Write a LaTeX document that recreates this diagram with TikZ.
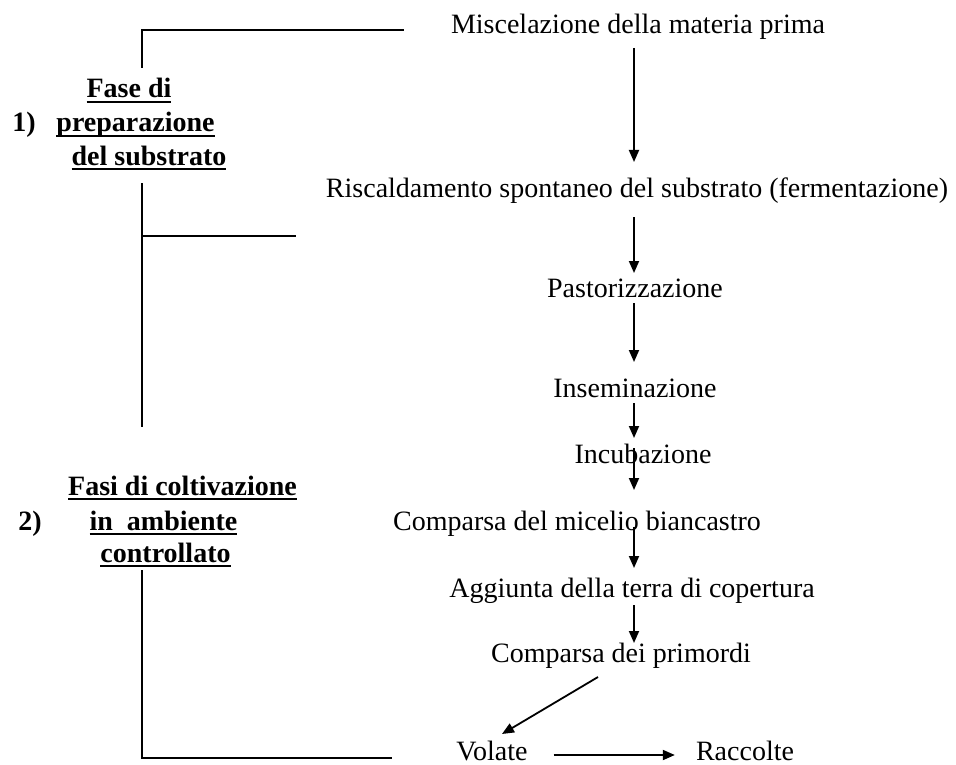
\documentclass[tikz,border=0pt]{standalone}
\usepackage{fontspec}
\setmainfont{Liberation Serif}
\usetikzlibrary{arrows.meta,calc}
\newcommand\myul[1]{\setbox0\hbox{#1}\rlap{\rule[-5pt]{\wd0}{1.6pt}}\box0}
\begin{document}
\begin{tikzpicture}[x=1pt,y=-1pt,
  txt/.style={inner sep=0pt,anchor=base,font=\fontsize{28}{34}\selectfont},
  lbl/.style={inner sep=0pt,anchor=base,font=\fontsize{28}{34}\selectfont\bfseries},
  arr/.style={line width=1.8pt,-{Triangle[width=10pt,length=12pt]}},
  ln/.style={line width=1.8pt}]
\useasboundingbox[fill=white] (0,0) rectangle (956,765);
\coordinate (axis) at (634,0);
\coordinate (vx) at (142,0);
% steps
\node[txt] (m)  at (638,34)  {Miscelazione della materia prima};
\node[txt] (r)  at (637,197) {Riscaldamento spontaneo del substrato (fermentazione)};
\node[txt] (p)  at (635,297) {Pastorizzazione};
\node[txt] (s)  at (635,397) {Inseminazione};
\node[txt] (c)  at (643,463) {Incubazione};
\node[txt] (cm) at (577,530) {Comparsa del micelio biancastro};
\node[txt] (ag) at (632,597) {Aggiunta della terra di copertura};
\node[txt] (cp) at (621,662) {Comparsa dei primordi};
\node[txt] (v)  at (492,760) {Volate};
\node[txt] (ra) at (745,760) {Raccolte};
% left labels
\node[lbl] (f1a) at (129,98)   {\myul{Fase di}};
\node[lbl] (n1)  at (24,132)   {1)};
\node[lbl] (f1b) at (135.5,132) {\myul{preparazione}};
\node[lbl] (f1c) at (149,165)  {\myul{del substrato}};
\node[lbl] (f2a) at (182.5,495) {\myul{Fasi di coltivazione}};
\node[lbl] (n2)  at (30,530)   {2)};
\node[lbl] (f2b) at (163.5,530) {\myul{in\ \ ambiente}};
\node[lbl] (f2c) at (165.5,562) {\myul{controllato}};
% vertical arrows
\draw[arr] ($(m.base -| axis)+(0,14)$) -- ($(r.base -| axis)+(0,-35)$);
\draw[arr] ($(r.base -| axis)+(0,20)$) -- ($(p.base -| axis)+(0,-24)$);
\draw[arr] ($(p.base -| axis)+(0,6)$) -- ($(s.base -| axis)+(0,-35)$);
\draw[arr] ($(s.base -| axis)+(0,6)$) -- ($(c.base -| axis)+(0,-25)$);
\draw[arr] ($(c.base -| axis)+(0,-15)$) -- ($(cm.base -| axis)+(0,-40)$);
\draw[arr] ($(cm.base -| axis)+(0,-3)$) -- ($(ag.base -| axis)+(0,-29)$);
\draw[arr] ($(ag.base -| axis)+(0,8)$) -- ($(cp.base -| axis)+(0,-19)$);
\draw[arr] ($(cp.base)+(-23,15)$) -- ($(v.base)+(10,-26)$);
\draw[arr] ($(v.base east)+(26,-5)$) -- ($(ra.base west)+(-21,-5)$);
% left brackets
\draw[ln] ($(f1a.base -| vx)+(0,-30)$) |- ($(m.base west)+(-47,-4)$);
\draw[ln] ($(f1c.base -| vx)+(0,18)$) -- ($(f2a.base -| vx)+(0,-68)$);
\coordinate (b1) at ($(r.base west)+(-30,39)$);
\draw[ln] (b1) -- (b1 -| vx);
\draw[ln] ($(f2c.base -| vx)+(0,8)$) |- ($(v.base west)+(-64,-2)$);
\end{tikzpicture}
\end{document}
